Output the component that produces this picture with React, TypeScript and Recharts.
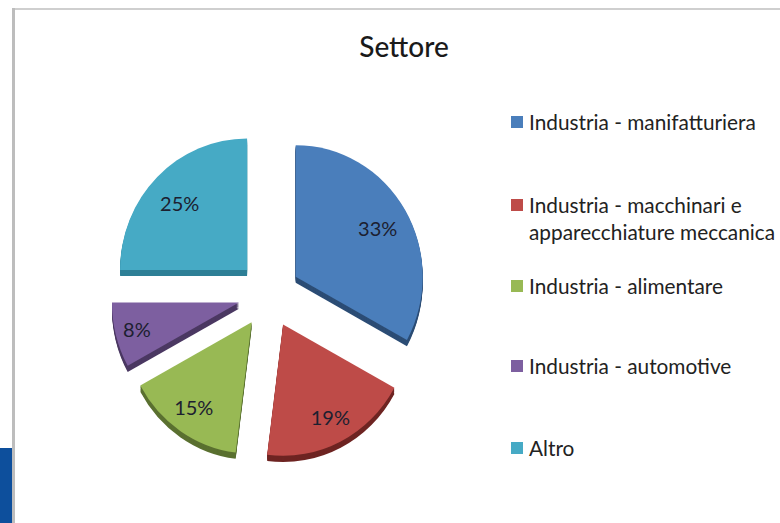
import { PieChart, Pie, Legend, Sector } from 'recharts';

const TITLE = 'Settore';
const categories = [
  'Industria - manifatturiera',
  'Industria - macchinari e apparecchiature meccanica',
  'Industria - alimentare',
  'Industria - automotive',
  'Altro',
];
const shares = [33, 19, 15, 8, 25];
const topColors = ['#4a7ebb', '#be4b48', '#98b954', '#7d5fa0', '#46aac5'];
const sideColors = ['#2c4d75', '#6e2422', '#5a7030', '#4b3862', '#2d7f96'];
const legendTops = [108, 191, 272, 352, 434];
// how far along the radius each percentage sits
const labelReach = [0.75, 0.82, 0.81, 0.83, 0.75];

const FONT = 'Lato, "Open Sans", sans-serif';
const EXPLODE = 31;
const DEPTH = 6;
const TILT = 1.035; // the tilted pie reads slightly taller than wide
const RADIAN = Math.PI / 180;

const pieData = categories.map((name, i) => ({ name, value: shares[i], fill: topColors[i] }));

function apexOf(cx: number, cy: number, midAngle: number) {
  return {
    x: cx + Math.cos(midAngle * RADIAN) * EXPLODE,
    y: cy - Math.sin(midAngle * RADIAN) * EXPLODE * 1.1,
  };
}

// Pulled-out wedge with a darker copy stacked underneath for the thickness
function ExplodedSlice(props: any) {
  const { cx, cy, startAngle, endAngle, midAngle, innerRadius, outerRadius, fill, name } = props;
  const apex = apexOf(cx, cy, midAngle);
  const side = sideColors[categories.indexOf(name)];
  const layers = [];
  for (let d = DEPTH; d > 0; d--) {
    layers.push(d);
  }
  const common = { cx: apex.x, innerRadius, outerRadius, startAngle, endAngle, stroke: 'none' };
  return (
    <g transform={`translate(0 ${apex.y}) scale(1 ${TILT}) translate(0 ${-apex.y})`}>
      {layers.map((d) => (
        <Sector key={d} {...common} cy={apex.y + d} fill={side} />
      ))}
      <Sector {...common} cy={apex.y} fill={fill} />
    </g>
  );
}

function sliceLabel(props: any) {
  const { cx, cy, midAngle, outerRadius, value, name } = props;
  const apex = apexOf(cx, cy, midAngle);
  const reach = labelReach[categories.indexOf(name)] * outerRadius;
  const x = apex.x + Math.cos(midAngle * RADIAN) * reach;
  const y = apex.y - Math.sin(midAngle * RADIAN) * reach;
  return (
    <text x={x} y={y} textAnchor="middle" dominantBaseline="central" fontFamily={FONT} fontSize={20} fill="#1c2030">
      {value}%
    </text>
  );
}

function LegendList({ payload }: any) {
  return (
    <div style={{ position: 'relative', width: 270, height: 400, fontFamily: FONT, fontSize: 20.8, lineHeight: '27px', color: '#222' }}>
      {(payload || []).map((item: any, i: number) => (
        <div key={item.value} style={{ position: 'absolute', top: legendTops[i] - 100, left: 0, width: 270 }}>
          <span style={{ position: 'absolute', left: 0, top: 8, width: 12, height: 12, background: topColors[i] }} />
          <div style={{ marginLeft: 18, width: 250 }}>{item.value}</div>
        </div>
      ))}
    </div>
  );
}

export default function App() {
  return (
    <div style={{ position: 'absolute', left: 0, top: 0, width: 780, height: 523, background: '#fff', overflow: 'hidden' }}>
      {/* slide frame and the corner of the slide logo */}
      <div style={{ position: 'absolute', left: 12, top: 8, width: 768, height: 2, background: '#cfcfcf' }} />
      <div style={{ position: 'absolute', left: 12, top: 8, width: 3, height: 515, background: '#bdbdbd' }} />
      <div style={{ position: 'absolute', left: 0, top: 448, width: 12, height: 75, background: '#0d4f9c' }} />
      <PieChart width={780} height={523} margin={{ top: 0, right: 0, bottom: 0, left: 0 }} style={{ position: 'absolute', left: 0, top: 0 }}>
        <text x={404} y={57} textAnchor="middle" fontFamily={FONT} fontSize={28} fontWeight={500} fill="#1a1a1a">
          {TITLE}
        </text>
        <Pie
          data={pieData}
          dataKey="value"
          nameKey="name"
          cx={269}
          cy={294}
          innerRadius={0}
          outerRadius={127}
          startAngle={90}
          endAngle={-270}
          stroke="none"
          shape={ExplodedSlice}
          label={sliceLabel}
          labelLine={false}
          isAnimationActive={false}
        />
        <Legend
          content={<LegendList />}
          itemSorter={null}
          wrapperStyle={{ position: 'absolute', left: 511, top: 100, width: 270, bottom: 'auto', right: 'auto' }}
        />
      </PieChart>
    </div>
  );
}
